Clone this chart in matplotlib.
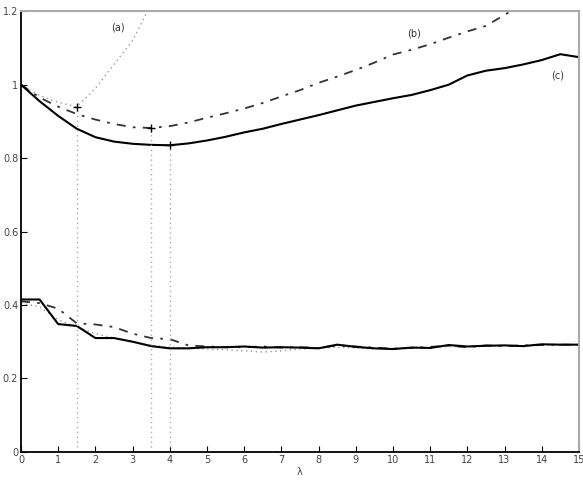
import matplotlib
matplotlib.use('Agg')
import matplotlib.pyplot as plt
import numpy as np

# lambda grid
lam = np.arange(0, 15.01, 0.5)

# upper curves
curve_a_x = [0, 0.5, 1, 1.5, 2, 2.5, 3, 3.5]
curve_a = [1.0, 0.97, 0.952, 0.94, 0.99, 1.055, 1.12, 1.22]
curve_b_x = [0, 0.5, 1, 1.5, 2, 2.5, 3, 3.5, 4, 4.5, 5, 5.5, 6, 6.5, 7, 7.5, 8,
             8.5, 9, 9.5, 10, 10.5, 11, 11.5, 12, 12.5, 13, 13.5]
curve_b = [1.0, 0.965, 0.94, 0.92, 0.905, 0.893, 0.884, 0.882, 0.887, 0.897,
           0.91, 0.922, 0.935, 0.95, 0.968, 0.985, 1.005, 1.022, 1.04, 1.06,
           1.082, 1.095, 1.11, 1.128, 1.145, 1.16, 1.19, 1.22]
curve_c = [1.0, 0.955, 0.915, 0.88, 0.857, 0.845, 0.839, 0.836, 0.835, 0.84,
           0.848, 0.858, 0.87, 0.88, 0.893, 0.905, 0.917, 0.93, 0.943, 0.953,
           0.963, 0.972, 0.985, 1.0, 1.025, 1.038, 1.045, 1.055, 1.067, 1.083, 1.075]

# lower curves
low_solid = [0.415, 0.415, 0.348, 0.343, 0.31, 0.31, 0.3, 0.288, 0.282, 0.282,
             0.285, 0.285, 0.287, 0.284, 0.285, 0.284, 0.282, 0.292, 0.286, 0.282,
             0.28, 0.284, 0.283, 0.291, 0.287, 0.289, 0.29, 0.288, 0.293, 0.292, 0.292]
low_dashdot = [0.41, 0.405, 0.39, 0.35, 0.347, 0.34, 0.322, 0.31, 0.307, 0.29,
               0.287, 0.285, 0.285, 0.287, 0.284, 0.285, 0.283, 0.29, 0.287, 0.284,
               0.281, 0.283, 0.286, 0.289, 0.285, 0.29, 0.288, 0.29, 0.291, 0.292, 0.292]
low_dotted = [0.405, 0.395, 0.36, 0.34, 0.322, 0.31, 0.3, 0.29, 0.285, 0.283,
              0.28, 0.278, 0.275, 0.272, 0.275, 0.28, 0.282, 0.285, 0.283, 0.28,
              0.282, 0.285, 0.284, 0.287, 0.286, 0.288, 0.29, 0.289, 0.291, 0.292, 0.292]

# optimum points
opt_x = [1.5, 3.5, 4]
opt_y = [0.94, 0.882, 0.835]

dashdot = (0, (5, 4, 1.5, 4))
dotted = (0, (1, 2.5))

fig = plt.figure(figsize=(5.83, 4.88), dpi=100)
ax = fig.add_axes([0.036, 0.074, 0.957, 0.903])

ax.plot(curve_a_x, curve_a, color='#999999', ls=dotted, lw=1.0)
ax.plot(curve_b_x, curve_b, color='#333333', ls=dashdot, lw=1.3)
ax.plot(lam, curve_c, color='black', ls='-', lw=1.5)

ax.plot(lam, low_dotted, color='#999999', ls=dotted, lw=1.0)
ax.plot(lam, low_dashdot, color='#333333', ls=dashdot, lw=1.3)
ax.plot(lam, low_solid, color='black', ls='-', lw=1.5)

for xv, yv in zip(opt_x, opt_y):
    ax.plot([xv, xv], [0, yv], color='#aaaaaa', ls=dotted, lw=1.0)
ax.plot(opt_x, opt_y, 'k+', ms=6, mew=1.0)

ax.text(2.6, 1.157, '(a)', fontsize=7, color='#333333', ha='center', va='center')
ax.text(10.56, 1.14, '(b)', fontsize=7, color='#333333', ha='center', va='center')
ax.text(14.43, 1.026, '(c)', fontsize=7, color='#333333', ha='center', va='center')

ax.set_xlim(0, 15)
ax.set_ylim(0, 1.2)
ax.set_xticks(range(0, 16))
ax.set_yticks([0, 0.2, 0.4, 0.6, 0.8, 1.0, 1.2])
ax.set_yticklabels(['0', '0.2', '0.4', '0.6', '0.8', '1', '1.2'])
ax.tick_params(direction='in', length=4, labelsize=7, labelcolor='#444444', pad=2)
ax.set_xlabel('λ', fontsize=7, color='#444444', labelpad=2)

ax.spines['left'].set_linewidth(1.3)
ax.spines['bottom'].set_linewidth(1.3)
ax.spines['top'].set_color('#aaaaaa')
ax.spines['right'].set_color('#aaaaaa')
ax.spines['top'].set_linewidth(1.5)
ax.spines['right'].set_linewidth(1.5)

fig.savefig('out.png', dpi=100)
